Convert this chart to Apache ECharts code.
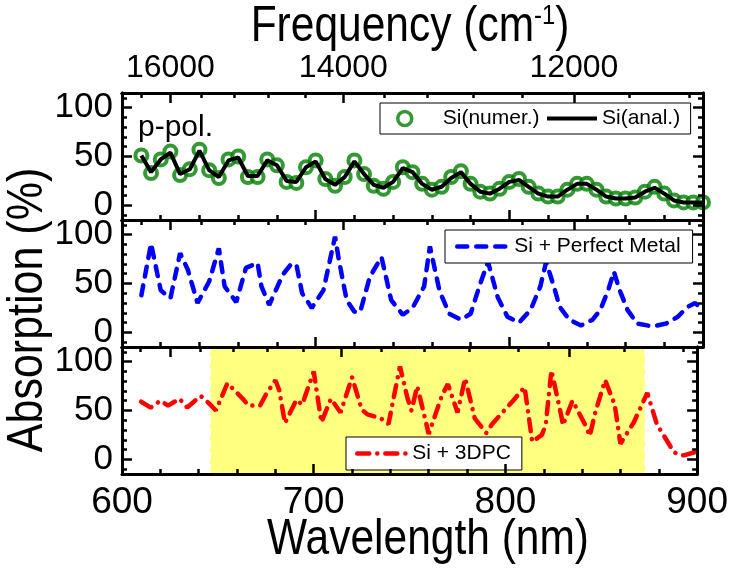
<!DOCTYPE html>
<html>
<head>
<meta charset="utf-8">
<script src="https://cdn.jsdelivr.net/npm/echarts@6/dist/echarts.min.js"></script>
<style>html,body{margin:0;padding:0;background:#fff}#c{width:731px;height:568px}</style>
</head>
<body>
<div id="c"></div>
<script>
// ---------- data ----------
const wlNumer = [610,615,620,625,630,635,640,645,650,655,660,665,670,675,680,685,690,695,700,705,710,715,720,725,730,735,740,745,750,755,760,765,770,775,780,785,790,795,800,805,810,815,820,825,830,835,840,845,850,855,860,865,870,875,880,885,890,895,900];
const siNumer = [51,33,47,55,31,37,57,36,28,47,50,29,29,47,41,24,23,39,46,27,20,29,46,32,20,17,24,39,34,22,16,19,29,35,22,14,12,17,24,27,19,12,9,9,16,22,22,16,9,7,7,8,14,19,12,5,3,3,3];
const siAnal  = [51,34,47,54,32,37,56,36,29,46,49,30,30,46,41,25,24,39,45,27,21,29,45,32,21,18,24,38,34,22,16,19,28,34,22,14,12,17,24,26,19,12,9,9,16,22,22,16,9,7,7,8,14,18,12,5,3,3,3];

const wlMetal = [610,615,620,625,630,634,639,645,650,653,659,664,670,672,676,683,687,690,693,698,704,710,712,716,720,723,728,734,739,745,750,756,759,764,769,775,780,785,789,794,799,805,811,816,819,823,826,831,837,843,847,851,854,857,861,866,874,881,887,892,896,900];
const siMetal = [38,91,43,35,81,64,30,52,86,47,31,66,71,47,28,59,69,70,40,25,43,98,74,33,21,21,57,77,33,18,25,47,88,42,19,13,19,50,72,36,16,10,23,47,72,47,26,13,7,13,23,43,62,43,23,9,6,9,16,26,30,22];

const wl3dpc = [610,615,620,624,630,634,641,645,649,655,663,666,672,675,680,682,685,691,694,700,704,709,714,720,725,728,735,739,742,745,749,751,754,760,767,770,775,779,784,790,793,804,810,814,819,821,824,829,830,835,842,844,847,852,857,860,867,874,879,888,893,900];
const si3dpc = [59,53,60,55,62,53,65,58,50,78,62,55,55,66,81,71,37,61,56,90,38,62,48,84,51,46,42,36,66,95,62,50,75,26,66,77,48,83,42,27,36,60,74,18,25,35,91,46,35,60,34,24,49,81,56,16,38,68,36,7,4,8];

const bandRange = [645.8, 873];            // shaded photonic-crystal region (nm)
const yTickLabels = [0, 50, 100];
const yMinorTicks = [-10, 10, 20, 30, 40, 60, 70, 80, 90, 110];
const freqMajor = [16000, 14000, 12000];
const freqMinor = [16400, 15600, 15200, 14800, 14400, 13600, 13200, 12800, 12400, 11600, 11200];

// ---------- styling ----------
const FR = "'Liberation Sans',Arial,sans-serif";
const toWl = f => 1e7 / f;
const panels = [93, 220, 347];
const PH = 127;
const axisLine = {show: true, onZero: false, lineStyle: {color: '#000', width: 3}};
const tickStyle = {color: '#000', width: 2.5};

const grid = panels.map(t => ({left: 122, right: 28, top: t, height: PH}));
const xAxis = [];
const yAxis = [];
panels.forEach((t, i) => {
  xAxis.push({gridIndex: i, type: 'value', min: 600, max: 900, interval: 100, position: 'bottom', z: 10,
    axisLine, splitLine: {show: false},
    axisTick: {inside: true, length: 10, lineStyle: tickStyle},
    minorTick: {show: true, splitNumber: 5, length: 5, lineStyle: tickStyle},
    axisLabel: {show: i === 2, margin: 10, fontSize: 37, fontFamily: FR, color: '#000'}});
  xAxis.push({gridIndex: i, type: 'value', min: 600, max: 900, position: 'top', z: 10,
    axisLine, splitLine: {show: false},
    axisTick: {inside: true, length: 5, lineStyle: tickStyle, customValues: freqMinor.map(toWl)},
    axisLabel: {show: false}});
  xAxis.push({gridIndex: i, type: 'value', min: 600, max: 900, position: 'top', z: 10,
    axisLine, splitLine: {show: false},
    axisTick: {inside: true, length: 10, lineStyle: tickStyle, customValues: freqMajor.map(toWl)},
    axisLabel: {show: i === 0, customValues: freqMajor.map(toWl), margin: 9, fontSize: 32, fontFamily: FR, color: '#000',
      formatter: v => String(Math.round(1e7 / v))}});
  ['left', 'right'].forEach(pos => {
    yAxis.push({gridIndex: i, type: 'value', min: -15, max: 115, position: pos, z: 10,
      axisLine, splitLine: {show: false},
      axisTick: {inside: true, length: 10, lineStyle: tickStyle, customValues: yTickLabels},
      axisLabel: {show: pos === 'left', customValues: yTickLabels, margin: 9, fontSize: 35, fontFamily: FR, color: '#000'}});
    yAxis.push({gridIndex: i, type: 'value', min: -15, max: 115, position: pos, z: 10,
      axisLine, splitLine: {show: false},
      axisTick: {inside: true, length: 5, lineStyle: tickStyle, customValues: yMinorTicks},
      axisLabel: {show: false}});
  });
});

const zip = (a, b) => a.map((x, k) => [x, b[k]]);
const legendText = {fontSize: 21, fontFamily: FR, color: '#000'};
const hiddenSym = {color: 'rgba(0,0,0,0)', borderWidth: 0};
const blueStyle = {color: '#0000ff', width: 4.5, type: [10, 9], cap: 'round'};
const redStyle = {color: '#ff0000', width: 4.5, type: [12, 8, 0.1, 8], cap: 'round'};
const blackStyle = {color: '#000', width: 4};

const option = {
  animation: false,
  backgroundColor: '#fff',
  grid, xAxis, yAxis,
  legend: [
    {data: ['Si(numer.)'], left: 380, top: 103, itemWidth: 14, itemHeight: 14, z: 10,
      backgroundColor: '#fff', borderColor: '#000', borderWidth: 1, borderRadius: 0,
      padding: [5, 151, 5, 16], textStyle: Object.assign({padding: [0, 0, 0, 26]}, legendText),
      itemStyle: {color: '#fff', borderColor: '#008000', borderWidth: 3.5}},
    {data: ['Si(anal.)'], left: 545, top: 108, itemWidth: 50, itemHeight: 14, z: 11, itemGap: 0,
      padding: 0, textStyle: legendText, itemStyle: hiddenSym, lineStyle: blackStyle},
    {data: ['Si + Perfect Metal'], left: 445, top: 230, itemWidth: 52, itemHeight: 14, z: 10,
      backgroundColor: '#fff', borderColor: '#000', borderWidth: 1, borderRadius: 0,
      padding: [6, 12, 6, 10], textStyle: legendText, itemStyle: hiddenSym, lineStyle: blueStyle},
    {data: ['Si + 3DPC'], left: 346, top: 437, itemWidth: 50, itemHeight: 14, z: 10,
      backgroundColor: '#fff', borderColor: '#000', borderWidth: 1, borderRadius: 0,
      padding: [6, 11, 6, 9], textStyle: legendText, itemStyle: hiddenSym, lineStyle: redStyle}
  ],
  series: [
    {name: 'Si(numer.)', type: 'scatter', xAxisIndex: 0, yAxisIndex: 0, z: 2,
      data: zip(wlNumer, siNumer), symbol: 'circle', symbolSize: 12,
      itemStyle: {color: '#fff', borderColor: '#008000', borderWidth: 4}},
    {name: 'Si(anal.)', type: 'line', xAxisIndex: 0, yAxisIndex: 0, z: 3,
      data: zip(wlNumer, siAnal), symbol: 'none',
      lineStyle: blackStyle, itemStyle: {color: '#000'}},
    {name: 'Si + Perfect Metal', type: 'line', xAxisIndex: 3, yAxisIndex: 4, z: 3,
      data: zip(wlMetal, siMetal), symbol: 'none',
      lineStyle: blueStyle, itemStyle: {color: '#0000ff'}},
    {name: 'Si + 3DPC', type: 'line', xAxisIndex: 6, yAxisIndex: 8, z: 3,
      data: zip(wl3dpc, si3dpc), symbol: 'none',
      lineStyle: redStyle, itemStyle: {color: '#ff0000'},
      markArea: {silent: true, itemStyle: {color: '#ffff80', borderColor: '#fff', borderWidth: 2, borderType: 'dashed'},
        data: [[{xAxis: bandRange[0]}, {xAxis: bandRange[1]}]]}}
  ],
  graphic: [
    {type: 'text', x: 410, y: 27, scaleX: 0.85, z: 20, style: {text: '{a|Frequency (cm}{b|-1}{a|)}', align: 'center', verticalAlign: 'middle',
      rich: {a: {fontSize: 50, fontFamily: FR, fill: '#000'}, b: {fontSize: 28, fontFamily: FR, fill: '#000', verticalAlign: 'top'}}}},
    {type: 'text', x: 28, y: 310, rotation: Math.PI / 2, scaleX: 0.86, z: 20, style: {text: 'Absorption (%)', align: 'center', verticalAlign: 'middle',
      fontSize: 50, fontFamily: FR, fill: '#000'}},
    {type: 'text', x: 428, y: 540, scaleX: 0.85, z: 20, style: {text: 'Wavelength (nm)', align: 'center', verticalAlign: 'middle',
      fontSize: 50, fontFamily: FR, fill: '#000'}},
    {type: 'text', x: 138, y: 128, z: 20, style: {text: 'p-pol.', align: 'left', verticalAlign: 'middle',
      fontSize: 30, fontFamily: FR, fill: '#000'}}
  ]
};
const chart = echarts.init(document.getElementById('c'), null, {renderer: 'canvas'});
chart.setOption(option);
</script>
</body>
</html>
